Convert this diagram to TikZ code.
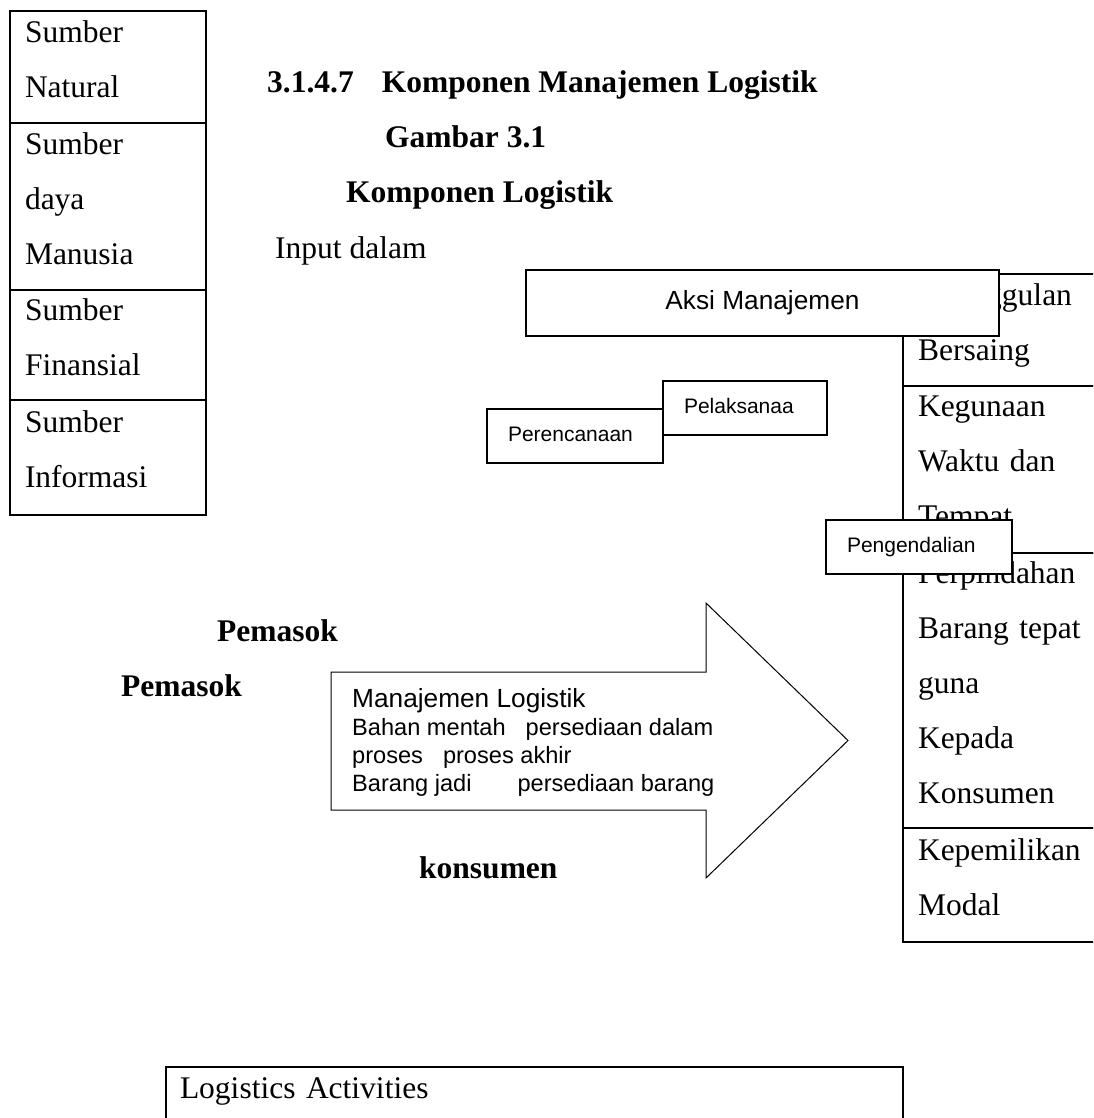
\documentclass[tikz,border=0pt]{standalone}
\usepackage{fontspec}
\setmainfont{Liberation Serif}
\newfontfamily\arialfont{Liberation Sans}
\usetikzlibrary{positioning}

\newcommand{\serifsize}{\fontsize{31.5}{55}\selectfont}
\newcommand{\aksisize}{\arialfont\fontsize{26.25}{30}\selectfont}
\newcommand{\boxsize}{\arialfont\fontsize{21}{25}\selectfont}
\newcommand{\flowsize}{\arialfont\fontsize{23.6}{28}\selectfont}
\newcommand{\cellstrut}{\rule[-16pt]{0pt}{23pt}}

\begin{document}
\begin{tikzpicture}[x=1pt,y=-1pt,
  cell/.style={draw,line width=1.5pt,outer sep=0pt,inner xsep=15pt,inner ysep=0pt,
               align=left,font=\serifsize},
  lcell/.style={cell,text width=166pt},
  rcell/.style={cell,text width=200pt},
  heading/.style={font=\serifsize\bfseries,inner sep=0pt,anchor=base west},
  plain/.style={font=\serifsize,inner sep=0pt,anchor=base west},
  sbox/.style={draw,fill=white,line width=1.1pt,font=\boxsize,inner ysep=0pt,
               inner xsep=21pt,align=left,minimum height=54pt,
               text height=16pt,text depth=6pt},
  flow/.style={draw,fill=white,line width=1pt,line join=miter},
  flowtext/.style={font=\flowsize,align=left,inner sep=0pt,anchor=west}]
  \path[use as bounding box,fill=white] (0,0) rectangle (1093,1118);
  \clip (0,0) rectangle (1093,1118);

  % sumber input (kiri)
  \node[lcell,minimum height=112pt,anchor=north west] (natural) at (10,11)
    {Sumber\cellstrut\\Natural\cellstrut};
  \node[lcell,minimum height=167pt,below=0pt of natural] (manusia)
    {Sumber\cellstrut\\daya\cellstrut\\Manusia\cellstrut};
  \node[lcell,minimum height=110pt,below=0pt of manusia] (finansial)
    {Sumber\cellstrut\\Finansial\cellstrut};
  \node[lcell,minimum height=115pt,below=0pt of finansial] (informasi)
    {Sumber\cellstrut\\Informasi\cellstrut};

  % judul
  \node[heading] (judul) at (267,93) {3.1.4.7\hspace{28pt}Komponen Manajemen Logistik};
  \node[heading] (gambar) at (385,148) {Gambar 3.1};
  \node[heading] (komponen) at (346,203) {Komponen Logistik};
  \node[plain] (input) at (275,258) {Input dalam};

  % output (kanan)
  \node[rcell,minimum height=112pt,anchor=north west] (unggul) at (903,274)
    {Keunggulan\cellstrut\\Bersaing\cellstrut};
  \node[rcell,minimum height=167pt,below=0pt of unggul] (waktu)
    {Kegunaan\cellstrut\\Waktu dan\cellstrut\\Tempat\cellstrut};
  \node[rcell,minimum height=275pt,below=0pt of waktu] (pindah)
    {Perpindahan\cellstrut\\Barang tepat\cellstrut\\guna\cellstrut\\Kepada\cellstrut\\Konsumen\cellstrut};
  \node[rcell,minimum height=114pt,below=0pt of pindah] (milik)
    {Kepemilikan\cellstrut\\Modal\cellstrut};

  % aksi manajemen
  \node[draw,fill=white,font=\aksisize,minimum width=473pt,minimum height=66pt,line width=1.3pt]
    (aksi) at (762.5,303) {Aksi Manajemen};
  \node[sbox,text width=134pt] (rencana) at (575,436) {Perencanaan};
  \node[sbox,text width=122pt] (laksana) at (745,408) {Pelaksanaa};
  \node[sbox,text width=144pt] (kendali) at (919,547) {Pengendalian};

  % panah manajemen logistik
  \draw[flow] (331,672) -- (706,672) -- (706,603) -- (848,740.5) -- (706,878)
    -- (706,810) -- (331,810) -- cycle;
  \node[flowtext] (logistik) at (352,742)
    {{\aksisize Manajemen Logistik}\\
     Bahan mentah\hspace{20pt}persediaan dalam\\
     proses\hspace{20pt}proses akhir\\
     Barang jadi\hspace{46pt}persediaan barang};

  \node[heading] (pemasoka) at (217,641) {Pemasok};
  \node[heading] (pemasokb) at (121,696) {Pemasok};
  \node[heading] (konsumen) at (419,878) {konsumen};

  % kegiatan logistik
  \node[cell,anchor=north west,text width=709pt,inner xsep=14pt,
        text height=31pt,text depth=80pt] (kegiatan) at (166,1067) {Logistics Activities};
\end{tikzpicture}
\end{document}
